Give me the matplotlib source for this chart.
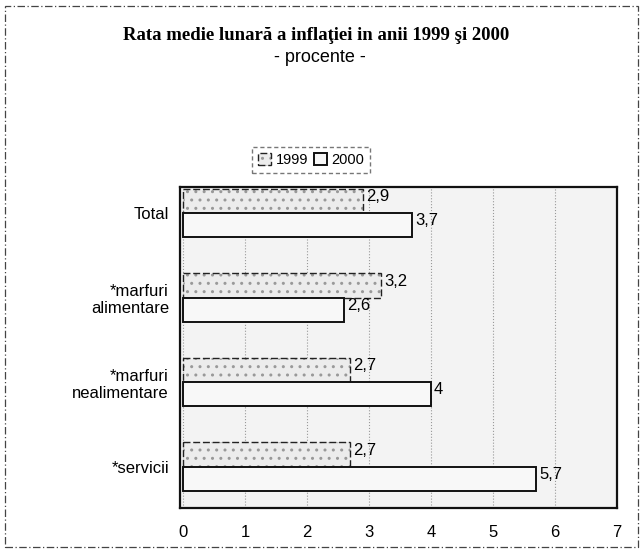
import numpy as np
import matplotlib.pyplot as plt
import matplotlib.patches as patches

# data
categories = ['Total', '*marfuri\nalimentare', '*marfuri\nnealimentare', '*servicii']
values_1999 = [2.9, 3.2, 2.7, 2.7]
values_2000 = [3.7, 2.6, 4.0, 5.7]
labels_1999 = ['2,9', '3,2', '2,7', '2,7']
labels_2000 = ['3,7', '2,6', '4', '5,7']
years = ['1999', '2000']

fig = plt.figure(figsize=(6.44, 5.5), dpi=100)
fig.patch.set_facecolor('white')

# dashed page border of the scan
border = patches.Rectangle((0.008, 0.005), 0.982, 0.985, transform=fig.transFigure,
                           fill=False, edgecolor='#444444', linewidth=0.9,
                           linestyle=(0, (6, 2, 1, 2)))
fig.add_artist(border)

ax = fig.add_axes([0.2795, 0.0764, 0.678, 0.584])
ax.set_facecolor('#f3f3f3')

y = np.arange(len(categories))
h = 0.285
bars1 = ax.barh(y - h / 2, values_1999, height=h, color='#ececec', edgecolor='#222222',
                linewidth=1.0, hatch='..', linestyle=(0, (5, 2)), label=years[0])
bars2 = ax.barh(y + h / 2, values_2000, height=h, color='#f8f8f8', edgecolor='#111111',
                linewidth=1.4, label=years[1])
for b in bars1:
    b._hatch_color = (0.6, 0.6, 0.6, 1.0)

for yi, v, t in zip(y, values_1999, labels_1999):
    ax.text(v + 0.05, yi - h / 2 - 0.05, t, fontsize=12, va='center', ha='left',
            family='Liberation Sans')
for yi, v, t in zip(y, values_2000, labels_2000):
    ax.text(v + 0.05, yi + h / 2 - 0.05, t, fontsize=12, va='center', ha='left',
            family='Liberation Sans')

ax.set_xlim(-0.05, 7)
ax.set_ylim(3.49, -0.31)
ax.set_xticks(range(8))
ax.set_xticklabels([str(i) for i in range(8)], fontsize=12, family='Liberation Sans')
ax.set_yticks(y)
ax.set_yticklabels(categories, fontsize=12, family='Liberation Sans')
ax.tick_params(axis='x', length=0, pad=12)
ax.tick_params(axis='y', length=0, pad=8)
ax.grid(axis='x', linestyle=':', color='#999999', linewidth=0.8)
ax.set_axisbelow(True)
for s in ax.spines.values():
    s.set_linewidth(1.6)
    s.set_color('#111111')

fig.text(0.491, 0.936, 'Rata medie lunară a inflaţiei in anii 1999 şi 2000',
         ha='center', va='center', fontsize=13.5, fontweight='bold', family='Liberation Serif')
fig.text(0.497, 0.895, '- procente -', ha='center', va='center', fontsize=13,
         family='Liberation Sans')

leg = ax.legend(loc='lower center', bbox_to_anchor=(0.30, 1.02), ncol=2, frameon=True,
                fontsize=10, handlelength=0.9, handleheight=0.9, handletextpad=0.3,
                columnspacing=0.4, borderpad=0.4, fancybox=False, edgecolor='#555555',
                prop={'family': 'Liberation Sans', 'size': 10.5})
leg.get_frame().set_linestyle((0, (3, 2)))

fig.savefig('out.png', dpi=100)
